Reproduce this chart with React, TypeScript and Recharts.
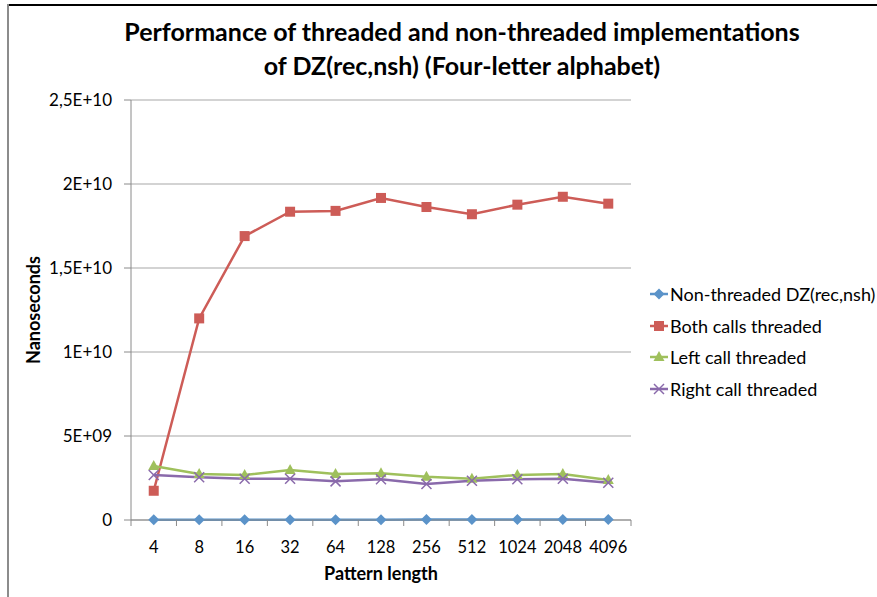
import React from 'react';
import { LineChart, Line, XAxis, YAxis, CartesianGrid } from 'recharts';

const patternLengths = ['4', '8', '16', '32', '64', '128', '256', '512', '1024', '2048', '4096'];
const nonThreaded = [1.2e7, 1.4e7, 1.6e7, 1.8e7, 2.0e7, 2.2e7, 2.4e7, 2.5e7, 2.6e7, 2.8e7, 3.0e7];
const bothThreaded = [1.74e9, 1.2e10, 1.69e10, 1.835e10, 1.84e10, 1.917e10, 1.863e10, 1.82e10, 1.877e10, 1.924e10, 1.883e10];
const leftThreaded = [3.21e9, 2.74e9, 2.68e9, 2.98e9, 2.74e9, 2.78e9, 2.58e9, 2.46e9, 2.68e9, 2.74e9, 2.38e9];
const rightThreaded = [2.68e9, 2.54e9, 2.46e9, 2.46e9, 2.3e9, 2.42e9, 2.14e9, 2.34e9, 2.42e9, 2.46e9, 2.22e9];

const yTicks = [0, 5e9, 1e10, 1.5e10, 2e10, 2.5e10];
const yTickLabels = ['0', '5E+09', '1E+10', '1,5E+10', '2E+10', '2,5E+10'];

const FONT = 'Lato, "Open Sans", sans-serif';
const STEP = 500 / patternLengths.length;

const data = patternLengths.map((p, i) => ({
  p,
  non: nonThreaded[i],
  both: bothThreaded[i],
  left: leftThreaded[i],
  right: rightThreaded[i],
}));

type Shape = 'diamond' | 'square' | 'triangle' | 'cross';

const series: { key: string; name: string; color: string; shape: Shape }[] = [
  { key: 'non', name: 'Non-threaded DZ(rec,nsh)', color: '#5b93c9', shape: 'diamond' },
  { key: 'both', name: 'Both calls threaded', color: '#cd5c57', shape: 'square' },
  { key: 'left', name: 'Left call threaded', color: '#9fc05c', shape: 'triangle' },
  { key: 'right', name: 'Right call threaded', color: '#8a6aab', shape: 'cross' },
];

const Marker = ({ cx, cy, color, shape }: { cx: number; cy: number; color: string; shape: Shape }) => {
  if (cx == null || cy == null) return null;
  if (shape === 'square') return <rect x={cx - 5} y={cy - 5} width={10} height={10} fill={color} />;
  if (shape === 'diamond')
    return <polygon points={`${cx},${cy - 5.5} ${cx + 5.5},${cy} ${cx},${cy + 5.5} ${cx - 5.5},${cy}`} fill={color} />;
  if (shape === 'triangle')
    return <polygon points={`${cx},${cy - 6} ${cx + 5.5},${cy + 4} ${cx - 5.5},${cy + 4}`} fill={color} />;
  return (
    <g stroke={color} strokeWidth={1.5}>
      <line x1={cx - 5} y1={cy - 5} x2={cx + 5} y2={cy + 5} />
      <line x1={cx - 5} y1={cy + 5} x2={cx + 5} y2={cy - 5} />
    </g>
  );
};

// category tick with Excel-style marks between categories
const XTick = (props: any) => {
  const { x, y, payload, index } = props;
  const last = index === patternLengths.length - 1;
  return (
    <g>
      <line x1={x - STEP / 2} y1={y} x2={x - STEP / 2} y2={y + 6} stroke="#8a8a8a" />
      {last && <line x1={x + STEP / 2} y1={y} x2={x + STEP / 2} y2={y + 6} stroke="#8a8a8a" />}
      <text x={x} y={y + 33} textAnchor="middle" fontSize={16.5} fontFamily={FONT} fill="#000">
        {payload.value}
      </text>
    </g>
  );
};

const YTick = (props: any) => {
  const { x, y, payload } = props;
  const i = yTicks.indexOf(payload.value);
  return (
    <text x={x} y={y + 6} textAnchor="end" fontSize={17} fontFamily={FONT} fill="#000">
      {yTickLabels[i]}
    </text>
  );
};

const LegendBox = () => (
  <div style={{ position: 'absolute', left: 648, top: 278, fontFamily: FONT, fontSize: 18, color: '#000' }}>
    {series.map((s) => (
      <div key={s.key} style={{ display: 'flex', alignItems: 'center', height: 31.7 }}>
        <svg width={22} height={16}>
          <line x1={2} y1={8} x2={20} y2={8} stroke={s.color} strokeWidth={2.5} />
          <Marker cx={11} cy={8} color={s.color} shape={s.shape} />
        </svg>
        <span style={{ whiteSpace: 'nowrap' }}>{s.name}</span>
      </div>
    ))}
  </div>
);

export default function App() {
  return (
    <div style={{ position: 'absolute', left: 0, top: 0, width: 877, height: 597, background: '#fff', overflow: 'hidden' }}>
      <div style={{ position: 'absolute', left: 8, top: 4, right: 0, height: 1.5, background: '#000' }} />
      <div style={{ position: 'absolute', left: 7, top: 4, bottom: 0, width: 2, background: '#8c8c8c' }} />
      <div
        style={{
          position: 'absolute',
          left: 62,
          width: 800,
          top: 14,
          textAlign: 'center',
          fontFamily: FONT,
          fontWeight: 700,
          fontSize: 25,
          lineHeight: '34px',
          color: '#000',
        }}
      >
        Performance of threaded and non-threaded implementations
        <br />
        of DZ(rec,nsh) (Four-letter alphabet)
      </div>
      <LineChart width={877} height={597} data={data} margin={{ top: 100, right: 246, bottom: 0, left: 0 }}>
        <CartesianGrid vertical={false} stroke="#c4c4c4" strokeWidth={1.3} />
        <XAxis
          dataKey="p"
          height={77}
          padding={{ left: STEP / 2, right: STEP / 2 }}
          stroke="#8a8a8a"
          tickLine={false}
          tickSize={0}
          tickMargin={0}
          interval={0}
          tick={<XTick />}
          label={({ viewBox }: any) => (
            <text
              x={viewBox.x + viewBox.width / 2}
              y={580}
              textAnchor="middle"
              fontSize={18}
              fontWeight={700}
              fontFamily={FONT}
              fill="#000"
            >
              Pattern length
            </text>
          )}
        />
        <YAxis
          width={131}
          domain={[0, 2.5e10]}
          ticks={yTicks}
          interval={0}
          stroke="#8a8a8a"
          tickSize={7}
          tickMargin={12}
          tick={<YTick />}
          label={({ viewBox }: any) => {
            const cy = viewBox.y + viewBox.height / 2;
            return (
              <text
                x={40}
                y={cy}
                transform={`rotate(-90, 40, ${cy})`}
                textAnchor="middle"
                fontSize={18}
                fontWeight={700}
                fontFamily={FONT}
                fill="#000"
              >
                Nanoseconds
              </text>
            );
          }}
        />
        {series.map((s) => (
          <Line
            key={s.key}
            dataKey={s.key}
            name={s.name}
            stroke={s.color}
            strokeWidth={2.5}
            isAnimationActive={false}
            dot={(p: any) => <Marker key={`${s.key}-${p.index}`} cx={p.cx} cy={p.cy} color={s.color} shape={s.shape} />}
            activeDot={false}
          />
        ))}
      </LineChart>
      <LegendBox />
    </div>
  );
}
